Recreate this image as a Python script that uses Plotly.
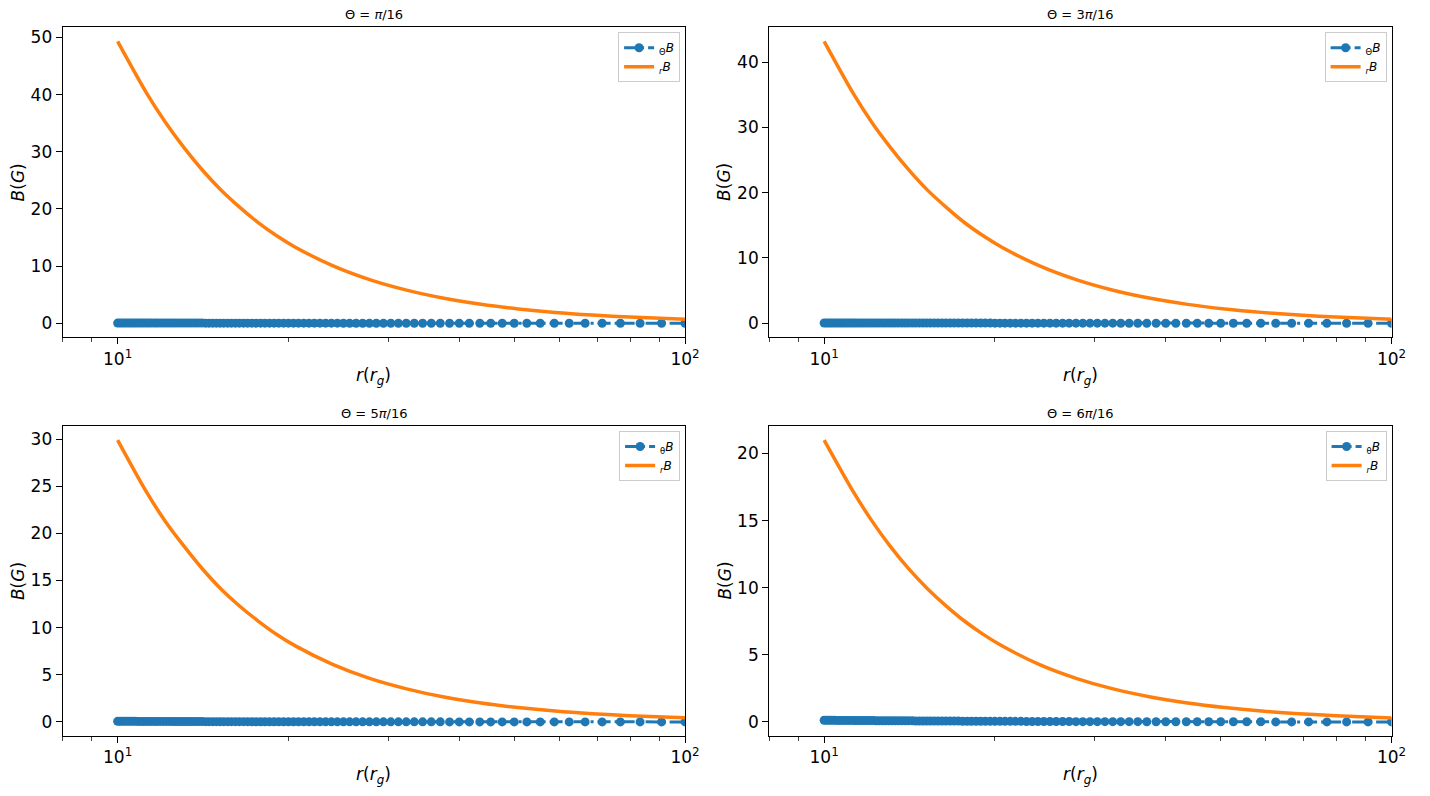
import plotly.graph_objects as go

# radial grid of the simulation (where B_theta is sampled)
r_grid = [
    10.00, 10.10, 10.20, 10.31, 10.42, 10.53, 10.64, 10.75, 10.87, 10.99,
    11.11, 11.24, 11.36, 11.49, 11.63, 11.76, 11.90, 12.05, 12.20, 12.35,
    12.50, 12.66, 12.82, 12.99, 13.16, 13.33, 13.51, 13.70, 13.89, 14.08,
    14.29, 14.49, 14.71, 14.93, 15.15, 15.38, 15.63, 15.87, 16.13, 16.39,
    16.67, 16.95, 17.24, 17.54, 17.86, 18.18, 18.52, 18.87, 19.23, 19.61,
    20.00, 20.41, 20.83, 21.28, 21.74, 22.22, 22.73, 23.26, 23.81, 24.39,
    25.00, 25.64, 26.32, 27.03, 27.78, 28.57, 29.41, 30.30, 31.25, 32.26,
    33.33, 34.48, 35.71, 37.04, 38.46, 40.00, 41.67, 43.48, 45.45, 47.62,
    50.00, 52.63, 55.56, 58.82, 62.50, 66.67, 71.43, 76.92, 83.33, 90.91,
    100.0,
]

# B_theta (sits on zero everywhere)
btheta_1 = [
    0.02, 0.02, 0.02, 0.02, 0.02, 0.02, 0.02, 0.02, 0.02, 0.02,
    0.02, 0.02, 0.02, 0.02, 0.02, 0.02, 0.02, 0.02, 0.02, 0.02,
    0.02, 0.02, 0.02, 0.02, 0.02, 0.02, 0.02, 0.02, 0.02, 0.02,
    0.01, 0.01, 0.01, 0.01, 0.01, 0.01, 0.01, 0.01, 0.01, 0.01,
    0.01, 0.01, 0.01, 0.01, 0.01, 0.01, 0.01, 0.01, 0.01, 0.01,
    0.01, 0.01, 0.01, 0.01, 0.01, 0.01, 0.01, 0.01, 0.01, 0.01,
    0.0, 0.0, 0.0, 0.0, 0.0, 0.0, 0.0, 0.0, 0.0, 0.0,
    0.0, 0.0, 0.0, 0.0, 0.0, 0.0, 0.0, 0.0, 0.0, 0.0,
    0.0, 0.0, 0.0, 0.0, 0.0, 0.0, 0.0, 0.0, 0.0, 0.0,
    0.0,
]
btheta_2 = [
    0.04, 0.04, 0.04, 0.04, 0.04, 0.04, 0.04, 0.04, 0.04, 0.04,
    0.04, 0.04, 0.04, 0.04, 0.03, 0.03, 0.03, 0.03, 0.03, 0.03,
    0.03, 0.03, 0.03, 0.03, 0.03, 0.03, 0.03, 0.03, 0.03, 0.03,
    0.02, 0.02, 0.02, 0.02, 0.02, 0.02, 0.02, 0.02, 0.02, 0.02,
    0.02, 0.02, 0.02, 0.02, 0.02, 0.02, 0.02, 0.02, 0.02, 0.02,
    0.01, 0.01, 0.01, 0.01, 0.01, 0.01, 0.01, 0.01, 0.01, 0.01,
    0.01, 0.01, 0.01, 0.01, 0.01, 0.01, 0.01, 0.01, 0.01, 0.01,
    0.0, 0.0, 0.0, 0.0, 0.0, 0.0, 0.0, 0.0, 0.0, 0.0,
    0.0, 0.0, 0.0, 0.0, 0.0, 0.0, 0.0, 0.0, 0.0, 0.0,
    0.0,
]
btheta_3 = [
    0.06, 0.06, 0.06, 0.06, 0.06, 0.06, 0.06, 0.06, 0.05, 0.05,
    0.05, 0.05, 0.05, 0.05, 0.05, 0.05, 0.05, 0.05, 0.05, 0.05,
    0.04, 0.04, 0.04, 0.04, 0.04, 0.04, 0.04, 0.04, 0.04, 0.04,
    0.03, 0.03, 0.03, 0.03, 0.03, 0.03, 0.03, 0.03, 0.03, 0.03,
    0.03, 0.03, 0.02, 0.02, 0.02, 0.02, 0.02, 0.02, 0.02, 0.02,
    0.02, 0.02, 0.02, 0.02, 0.02, 0.02, 0.01, 0.01, 0.01, 0.01,
    0.01, 0.01, 0.01, 0.01, 0.01, 0.01, 0.01, 0.01, 0.01, 0.01,
    0.01, 0.01, 0.01, 0.01, 0.0, 0.0, 0.0, 0.0, 0.0, 0.0,
    0.0, 0.0, 0.0, 0.0, 0.0, 0.0, 0.0, 0.0, 0.0, 0.0,
    0.0,
]
btheta_4 = [
    0.12, 0.12, 0.12, 0.12, 0.12, 0.11, 0.11, 0.11, 0.11, 0.11,
    0.11, 0.11, 0.10, 0.10, 0.10, 0.10, 0.10, 0.10, 0.10, 0.09,
    0.09, 0.09, 0.09, 0.09, 0.09, 0.08, 0.08, 0.08, 0.08, 0.08,
    0.08, 0.07, 0.07, 0.07, 0.07, 0.07, 0.07, 0.06, 0.06, 0.06,
    0.06, 0.06, 0.06, 0.05, 0.05, 0.05, 0.05, 0.05, 0.05, 0.04,
    0.04, 0.04, 0.04, 0.04, 0.04, 0.04, 0.03, 0.03, 0.03, 0.03,
    0.03, 0.03, 0.03, 0.03, 0.02, 0.02, 0.02, 0.02, 0.02, 0.02,
    0.02, 0.02, 0.02, 0.01, 0.01, 0.01, 0.01, 0.01, 0.01, 0.01,
    0.01, 0.01, 0.01, 0.01, 0.0, 0.0, 0.0, 0.0, 0.0, 0.0,
    0.0,
]

# B_r curve, read at these radii
r_read = [10, 11.24, 12.13, 13.07, 14.10, 15.21, 16.40, 17.69, 19.07, 20.57,
          23.92, 27.8, 32.3, 37.6, 43.7, 50.8, 59.0, 68.7, 79.8, 100]
br_1 = [49.3, 40.3, 35.2, 30.8, 26.8, 23.3, 20.3, 17.6, 15.3, 13.3,
        10.07, 7.62, 5.78, 4.36, 3.30, 2.50, 1.89, 1.43, 1.08, 0.71]
br_2 = [43.2, 35.3, 30.8, 27.0, 23.5, 20.4, 17.8, 15.4, 13.4, 11.65,
        8.82, 6.68, 5.06, 3.82, 2.89, 2.19, 1.66, 1.25, 0.95, 0.62]
br_3 = [29.9, 24.4, 21.3, 18.7, 16.25, 14.1, 12.3, 10.7, 9.28, 8.07,
        6.11, 4.62, 3.51, 2.64, 2.0, 1.52, 1.15, 0.87, 0.66, 0.43]
br_4 = [21.0, 17.2, 15.0, 13.1, 11.4, 9.93, 8.65, 7.5, 6.52, 5.67,
        4.29, 3.25, 2.46, 1.86, 1.41, 1.07, 0.81, 0.61, 0.46, 0.30]

titles = ["Θ = <i>π</i>/16", "Θ = 3<i>π</i>/16", "Θ = 5<i>π</i>/16", "Θ = 6<i>π</i>/16"]
theta_labels = ["<sub>Θ</sub><i>B</i>", "<sub>Θ</sub><i>B</i>",
                "<sub>θ</sub><i>B</i>", "<sub>θ</sub><i>B</i>"]
r_label = "<sub><i>r</i></sub><i>B</i>"
y_dticks = [10, 10, 5, 5]

btheta = [btheta_1, btheta_2, btheta_3, btheta_4]
br = [br_1, br_2, br_3, br_4]

W, H = 1430, 796
# axes boxes in pixels (left, top, right, bottom)
boxes = [(63.3, 27.3, 692.3, 337.3), (777.3, 27.3, 1406.3, 337.3),
         (63.3, 426.0, 692.3, 736.0), (777.3, 426.0, 1406.3, 736.0)]

BLUE = "#1f77b4"
ORANGE = "#ff7f0e"
FONT = "DejaVu Sans"

fig = go.Figure()
annotations = []
minor_vals = [8, 9, 20, 30, 40, 50, 60, 70, 80, 90]

for i in range(4):
    n = "" if i == 0 else str(i + 1)
    leg = "legend" + n
    fig.add_trace(go.Scatter(
        x=r_grid, y=btheta[i], mode="lines+markers", name=theta_labels[i],
        line=dict(color=BLUE, width=3, dash="13px,4px,3px,4px"),
        marker=dict(color=BLUE, size=9),
        xaxis="x" + n, yaxis="y" + n, legend=leg,
    ))
    fig.add_trace(go.Scatter(
        x=r_read, y=br[i], mode="lines", name=r_label,
        line=dict(color=ORANGE, width=3.5, shape="spline", smoothing=0.8),
        xaxis="x" + n, yaxis="y" + n, legend=leg,
    ))

    l, t, rr, b = boxes[i]
    xdom = [l / W, rr / W]
    ydom = [1 - b / H, 1 - t / H]
    ymax = max(max(br[i]), max(btheta[i]))
    ymin = min(min(br[i]), min(btheta[i]))
    span = ymax - ymin

    fig.update_layout({
        "xaxis" + n: dict(
            domain=xdom, anchor="y" + n, type="log", range=[0.90309, 2],
            tickvals=[10, 100], ticktext=["10<sup>1</sup>", "10<sup>2</sup>"],
            ticks="outside", ticklen=6, tickwidth=1, tickcolor="black",
            minor=dict(tickvals=minor_vals, ticks="outside", ticklen=3.5,
                       tickcolor="#444", tickwidth=1),
            showline=True, linecolor="black", linewidth=1, mirror=True,
            showgrid=False, zeroline=False,
            tickfont=dict(size=17, color="black", family=FONT),
        ),
        "yaxis" + n: dict(
            domain=ydom, anchor="x" + n,
            range=[ymin - 0.05 * span, ymax + 0.05 * span],
            tick0=0, dtick=y_dticks[i],
            ticks="outside", ticklen=6, tickwidth=1, tickcolor="black",
            showline=True, linecolor="black", linewidth=1, mirror=True,
            showgrid=False, zeroline=False,
            tickfont=dict(size=17, color="black", family=FONT),
        ),
        leg: dict(
            x=(rr - 5) / W, y=1 - (t + 5) / H, xanchor="right", yanchor="top",
            xref="paper", yref="paper",
            bgcolor="rgba(255,255,255,0.8)", bordercolor="#cccccc", borderwidth=1,
            font=dict(size=12, color="black", family=FONT),
            itemwidth=30, tracegroupgap=0,
        ),
    })

    cx = (l + rr) / 2 / W
    annotations.append(dict(text=titles[i], x=cx, y=1 - (t - 13) / H,
                            xref="paper", yref="paper", showarrow=False,
                            xanchor="center", yanchor="middle",
                            font=dict(size=13, color="black", family=FONT)))
    annotations.append(dict(text="<i>r</i>(<i>r</i><sub><i>g</i></sub>)", x=cx,
                            y=1 - (b + 39) / H, xref="paper", yref="paper",
                            showarrow=False, xanchor="center", yanchor="middle",
                            font=dict(size=17, color="black", family=FONT)))
    annotations.append(dict(text="<i>B</i>(<i>G</i>)", x=(l - 45) / W,
                            y=1 - (t + b) / 2 / H, xref="paper", yref="paper",
                            showarrow=False, textangle=-90,
                            xanchor="center", yanchor="middle",
                            font=dict(size=17, color="black", family=FONT)))

fig.update_layout(
    width=W, height=H, autosize=False,
    margin=dict(l=0, r=0, t=0, b=0),
    paper_bgcolor="white", plot_bgcolor="white",
    font=dict(family=FONT, color="black"),
    annotations=annotations,
)

fig.write_html("out.html", config={"displayModeBar": False},
               post_script="document.body.style.margin='0';")
